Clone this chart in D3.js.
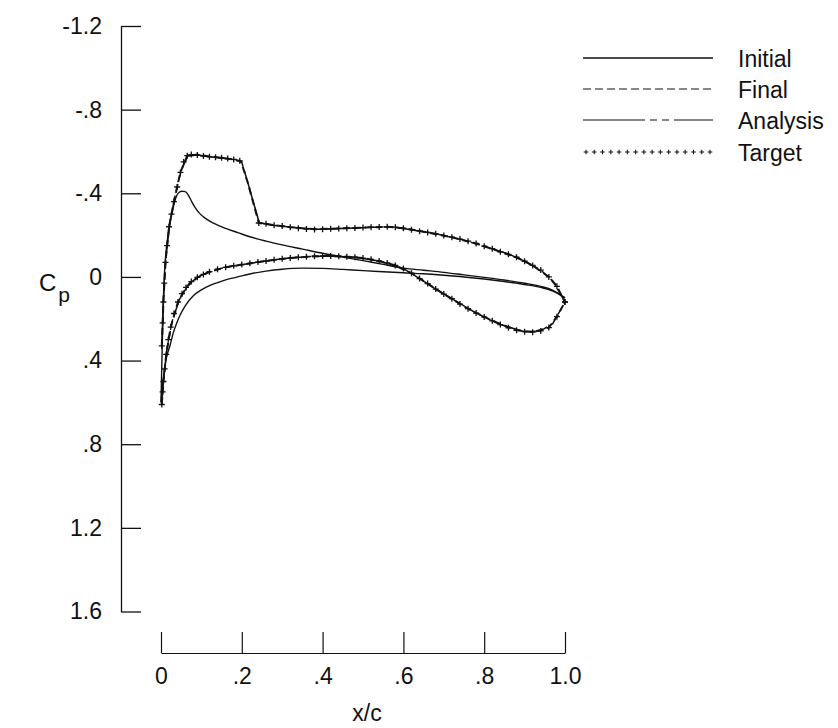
<!DOCTYPE html>
<html>
<head>
<meta charset="utf-8">
<script src="https://cdn.jsdelivr.net/npm/d3@7"></script>
<style>
  html, body { margin: 0; padding: 0; background: #fff; }
  svg { display: block; }
  text { font-family: "Liberation Sans", Arial, Helvetica, sans-serif; fill: #111; }
</style>
</head>
<body>
<svg id="chart" width="838" height="728"></svg>
<script>
// Pressure distributions over the airfoil chord, [x/c, Cp]

// Tick values and their printed labels
const xTicks = [0, 0.2, 0.4, 0.6, 0.8, 1.0];
const xTickLabels = ["0", ".2", ".4", ".6", ".8", "1.0"];
const yTicks = [-1.2, -0.8, -0.4, 0, 0.4, 0.8, 1.2, 1.6];
const yTickLabels = ["-1.2", "-.8", "-.4", "0", ".4", ".8", "1.2", "1.6"];

// Legend entries
const seriesNames = ["Initial", "Final", "Analysis", "Target"];

// Initial geometry, upper and lower surfaces
const initialUpper = [
  [0.000, 0.60], [0.002, 0.42], [0.004, 0.25], [0.006, 0.10], [0.009, -0.03],
  [0.013, -0.13], [0.018, -0.21], [0.024, -0.28], [0.030, -0.33], [0.037, -0.38],
  [0.045, -0.405], [0.052, -0.41], [0.060, -0.408], [0.068, -0.39], [0.076, -0.36],
  [0.085, -0.33], [0.095, -0.305], [0.110, -0.28], [0.130, -0.257], [0.160, -0.232],
  [0.190, -0.212], [0.220, -0.192], [0.260, -0.171], [0.300, -0.153], [0.350, -0.133],
  [0.400, -0.113], [0.450, -0.095], [0.500, -0.078], [0.550, -0.06], [0.600, -0.042],
  [0.650, -0.032], [0.700, -0.022], [0.750, -0.01], [0.800, 0.002], [0.850, 0.015],
  [0.900, 0.03], [0.940, 0.045], [0.970, 0.064], [1.000, 0.10]
];
const initialLower = [
  [0.000, 0.60], [0.004, 0.52], [0.008, 0.45], [0.012, 0.40], [0.017, 0.36],
  [0.022, 0.33], [0.030, 0.27], [0.038, 0.225], [0.048, 0.18], [0.060, 0.138],
  [0.080, 0.09], [0.100, 0.062], [0.120, 0.042], [0.140, 0.027], [0.160, 0.014],
  [0.190, 0.0], [0.220, -0.014], [0.260, -0.028], [0.300, -0.037], [0.350, -0.042],
  [0.400, -0.041], [0.450, -0.036], [0.500, -0.03], [0.550, -0.025], [0.600, -0.02],
  [0.650, -0.015], [0.700, -0.008], [0.750, 0.0], [0.800, 0.01], [0.850, 0.022],
  [0.900, 0.036], [0.940, 0.05], [0.970, 0.068], [1.000, 0.10]
];

// Final (designed) geometry
const finalUpper = [
  [0.002, 0.33], [0.006, 0.12], [0.011, -0.07], [0.020, -0.24], [0.032, -0.36],
  [0.048, -0.50], [0.065, -0.58], [0.090, -0.585], [0.120, -0.576], [0.150, -0.57],
  [0.180, -0.562], [0.198, -0.553], [0.215, -0.45], [0.242, -0.258], [0.280, -0.247],
  [0.320, -0.238], [0.380, -0.228], [0.440, -0.232], [0.500, -0.236], [0.560, -0.24],
  [0.600, -0.233], [0.660, -0.213], [0.720, -0.19], [0.780, -0.16], [0.840, -0.12],
  [0.880, -0.094], [0.920, -0.055], [0.960, 0.0], [0.980, 0.045], [1.000, 0.12]
];
const finalLower = [
  [0.002, 0.61], [0.006, 0.50], [0.013, 0.37], [0.024, 0.24], [0.042, 0.12],
  [0.062, 0.05], [0.090, 0.002], [0.120, -0.025], [0.160, -0.046], [0.200, -0.059],
  [0.260, -0.076], [0.320, -0.091], [0.380, -0.099], [0.420, -0.10], [0.460, -0.097],
  [0.500, -0.09], [0.540, -0.076], [0.580, -0.055], [0.620, -0.018], [0.660, 0.032],
  [0.700, 0.082], [0.760, 0.152], [0.820, 0.21], [0.880, 0.255], [0.920, 0.264],
  [0.960, 0.242], [0.980, 0.19], [1.000, 0.12]
];

// Flow analysis of the final geometry
const analysisUpper = [
  [0.002, 0.32], [0.006, 0.11], [0.012, -0.09], [0.022, -0.26], [0.035, -0.39],
  [0.050, -0.51], [0.066, -0.578], [0.090, -0.583], [0.120, -0.575], [0.150, -0.569],
  [0.180, -0.561], [0.200, -0.548], [0.218, -0.43], [0.243, -0.26], [0.280, -0.246],
  [0.330, -0.236], [0.390, -0.228], [0.450, -0.232], [0.510, -0.237], [0.570, -0.239],
  [0.620, -0.226], [0.680, -0.206], [0.740, -0.181], [0.800, -0.147], [0.860, -0.11],
  [0.900, -0.075], [0.940, -0.033], [0.970, 0.02], [1.000, 0.12]
];
const analysisLower = [
  [0.002, 0.60], [0.007, 0.48], [0.015, 0.34], [0.028, 0.21], [0.045, 0.11],
  [0.070, 0.03], [0.100, -0.008], [0.140, -0.037], [0.180, -0.053], [0.240, -0.071],
  [0.300, -0.087], [0.360, -0.097], [0.420, -0.10], [0.480, -0.094], [0.540, -0.076],
  [0.600, -0.04], [0.640, 0.008], [0.680, 0.058], [0.720, 0.104], [0.780, 0.173],
  [0.840, 0.228], [0.900, 0.262], [0.940, 0.258], [0.970, 0.222], [1.000, 0.12]
];

// Target pressure distribution (points)
const targetUpper = [
  [0.002, 0.33], [0.004, 0.22], [0.006, 0.12], [0.008, 0.03], [0.011, -0.07],
  [0.015, -0.15], [0.020, -0.24], [0.026, -0.30], [0.032, -0.36], [0.040, -0.43],
  [0.048, -0.50], [0.056, -0.55], [0.065, -0.58], [0.075, -0.585], [0.090, -0.583],
  [0.105, -0.578], [0.120, -0.575], [0.135, -0.572], [0.150, -0.57], [0.165, -0.566],
  [0.180, -0.562], [0.195, -0.555], [0.242, -0.258], [0.260, -0.254], [0.280, -0.247],
  [0.300, -0.243], [0.320, -0.238], [0.340, -0.233], [0.360, -0.229], [0.380, -0.227],
  [0.400, -0.228], [0.420, -0.23], [0.440, -0.232], [0.460, -0.233], [0.480, -0.234],
  [0.500, -0.236], [0.520, -0.238], [0.540, -0.239], [0.560, -0.24], [0.580, -0.238],
  [0.600, -0.233], [0.620, -0.226], [0.640, -0.219], [0.660, -0.213], [0.680, -0.206],
  [0.700, -0.198], [0.720, -0.19], [0.740, -0.181], [0.760, -0.171], [0.780, -0.16],
  [0.800, -0.147], [0.820, -0.135], [0.840, -0.12], [0.860, -0.108], [0.880, -0.094],
  [0.900, -0.075], [0.920, -0.055], [0.940, -0.033], [0.960, 0.0], [0.980, 0.045],
  [1.000, 0.12]
];
const targetLower = [
  [0.002, 0.61], [0.004, 0.55], [0.006, 0.50], [0.009, 0.44], [0.013, 0.37],
  [0.018, 0.30], [0.024, 0.24], [0.032, 0.175], [0.042, 0.12], [0.052, 0.08],
  [0.062, 0.05], [0.075, 0.022], [0.090, 0.002], [0.105, -0.012], [0.120, -0.025],
  [0.140, -0.037], [0.160, -0.046], [0.180, -0.053], [0.200, -0.059], [0.220, -0.065],
  [0.240, -0.071], [0.260, -0.076], [0.280, -0.082], [0.300, -0.087], [0.320, -0.091],
  [0.340, -0.094], [0.360, -0.097], [0.380, -0.099], [0.400, -0.10], [0.420, -0.10],
  [0.440, -0.099], [0.460, -0.097], [0.480, -0.094], [0.500, -0.09], [0.520, -0.084],
  [0.540, -0.076], [0.560, -0.067], [0.580, -0.055], [0.600, -0.04], [0.620, -0.018],
  [0.640, 0.008], [0.660, 0.032], [0.680, 0.058], [0.700, 0.082], [0.720, 0.104],
  [0.740, 0.13], [0.760, 0.152], [0.780, 0.173], [0.800, 0.192], [0.820, 0.21],
  [0.840, 0.228], [0.860, 0.243], [0.880, 0.255], [0.900, 0.262], [0.920, 0.264],
  [0.940, 0.258], [0.960, 0.242], [0.980, 0.19], [1.000, 0.12]
];

const svg = d3.select("#chart");
const FONT = "Liberation Sans, Arial, Helvetica, sans-serif";

// Cp axis is inverted: suction (negative) plotted upward
const x = d3.scaleLinear().domain([0, 1]).range([161, 565]);
const y = d3.scaleLinear().domain([-1.2, 1.6]).range([26, 611.5]);

// Y axis with inward ticks
const yAxis = svg.append("g")
  .attr("transform", `translate(${x(0) - 40},0)`)
  .call(d3.axisLeft(y)
    .tickValues(yTicks)
    .tickFormat((d, i) => yTickLabels[i])
    .tickSizeInner(-20)
    .tickSizeOuter(0)
    .tickPadding(19));
yAxis.attr("font-family", FONT).attr("font-size", 23);
yAxis.selectAll("path, line").attr("stroke", "#111").attr("stroke-width", 1.3);
yAxis.selectAll("text").attr("fill", "#111");

// X axis with upward ticks
const xAxis = svg.append("g")
  .attr("transform", `translate(0,653)`)
  .call(d3.axisBottom(x)
    .tickValues(xTicks)
    .tickFormat((d, i) => xTickLabels[i])
    .tickSizeInner(-21)
    .tickSizeOuter(0)
    .tickPadding(15));
xAxis.attr("font-family", FONT).attr("font-size", 23);
xAxis.selectAll("path, line").attr("stroke", "#111").attr("stroke-width", 1.2);
xAxis.selectAll("text").attr("fill", "#111");

// Axis titles
svg.append("text")
  .attr("x", (x(0) + x(1)) / 2 + 4).attr("y", 721)
  .attr("text-anchor", "middle")
  .attr("font-size", 23)
  .text("x/c");
const cp = svg.append("text").attr("x", 39).attr("y", 291).attr("font-size", 24);
cp.append("tspan").text("C");
cp.append("tspan").attr("dx", 2).attr("dy", 11).attr("font-size", 21).text("p");

const line = d3.line().x(d => x(d[0])).y(d => y(d[1]));
const smooth = d3.line().x(d => x(d[0])).y(d => y(d[1])).curve(d3.curveMonotoneX);

const plot = svg.append("g").attr("fill", "none").attr("stroke", "#111");

// Initial: thin solid
[initialUpper, initialLower].forEach(s =>
  plot.append("path").attr("d", smooth(s)).attr("stroke-width", 1.4));

// Analysis: chain line
[analysisUpper, analysisLower].forEach(s =>
  plot.append("path").attr("d", line(s))
    .attr("stroke-width", 1.5)
    .attr("stroke-dasharray", "60 5 7 5 7 5"));

// Final: dashed
[finalUpper, finalLower].forEach(s =>
  plot.append("path").attr("d", line(s))
    .attr("stroke-width", 2.0)
    .attr("stroke-dasharray", "7 4"));

// Target: plus markers
const plus = (g, cx, cy, r, w) => {
  g.append("path")
    .attr("d", `M${cx - r},${cy}H${cx + r}M${cx},${cy - r}V${cy + r}`)
    .attr("stroke", "#111").attr("stroke-width", w).attr("fill", "none");
};
const marks = svg.append("g");
[targetUpper, targetLower].forEach(s =>
  s.forEach(d => plus(marks, x(d[0]), y(d[1]), 3, 1.3)));

// Legend
const legend = svg.append("g");
const legX0 = 583, legX1 = 713, legTextX = 738;
const rowY = [61, 92, 123, 155];
seriesNames.forEach((name, i) => {
  const ly = rowY[i] - 3;
  if (name === "Target") {
    const n = 16;
    for (let k = 0; k < n; k++) {
      plus(legend, legX0 + 3 + k * (legX1 - legX0 - 6) / (n - 1), ly, 2.3, 1.1);
    }
  } else {
    const l = legend.append("line")
      .attr("x1", legX0).attr("x2", legX1)
      .attr("y1", ly).attr("y2", ly)
      .attr("stroke", "#111");
    if (name === "Initial") l.attr("stroke-width", 1.5);
    if (name === "Final") l.attr("stroke-width", 1).attr("stroke-dasharray", "8 4");
    if (name === "Analysis") l.attr("stroke-width", 1.1).attr("stroke-dasharray", "62 5 7 5 7 5");
  }
  legend.append("text")
    .attr("x", legTextX).attr("y", rowY[i])
    .attr("dominant-baseline", "middle")
    .attr("font-size", 23)
    .text(name);
});
</script>
</body>
</html>
